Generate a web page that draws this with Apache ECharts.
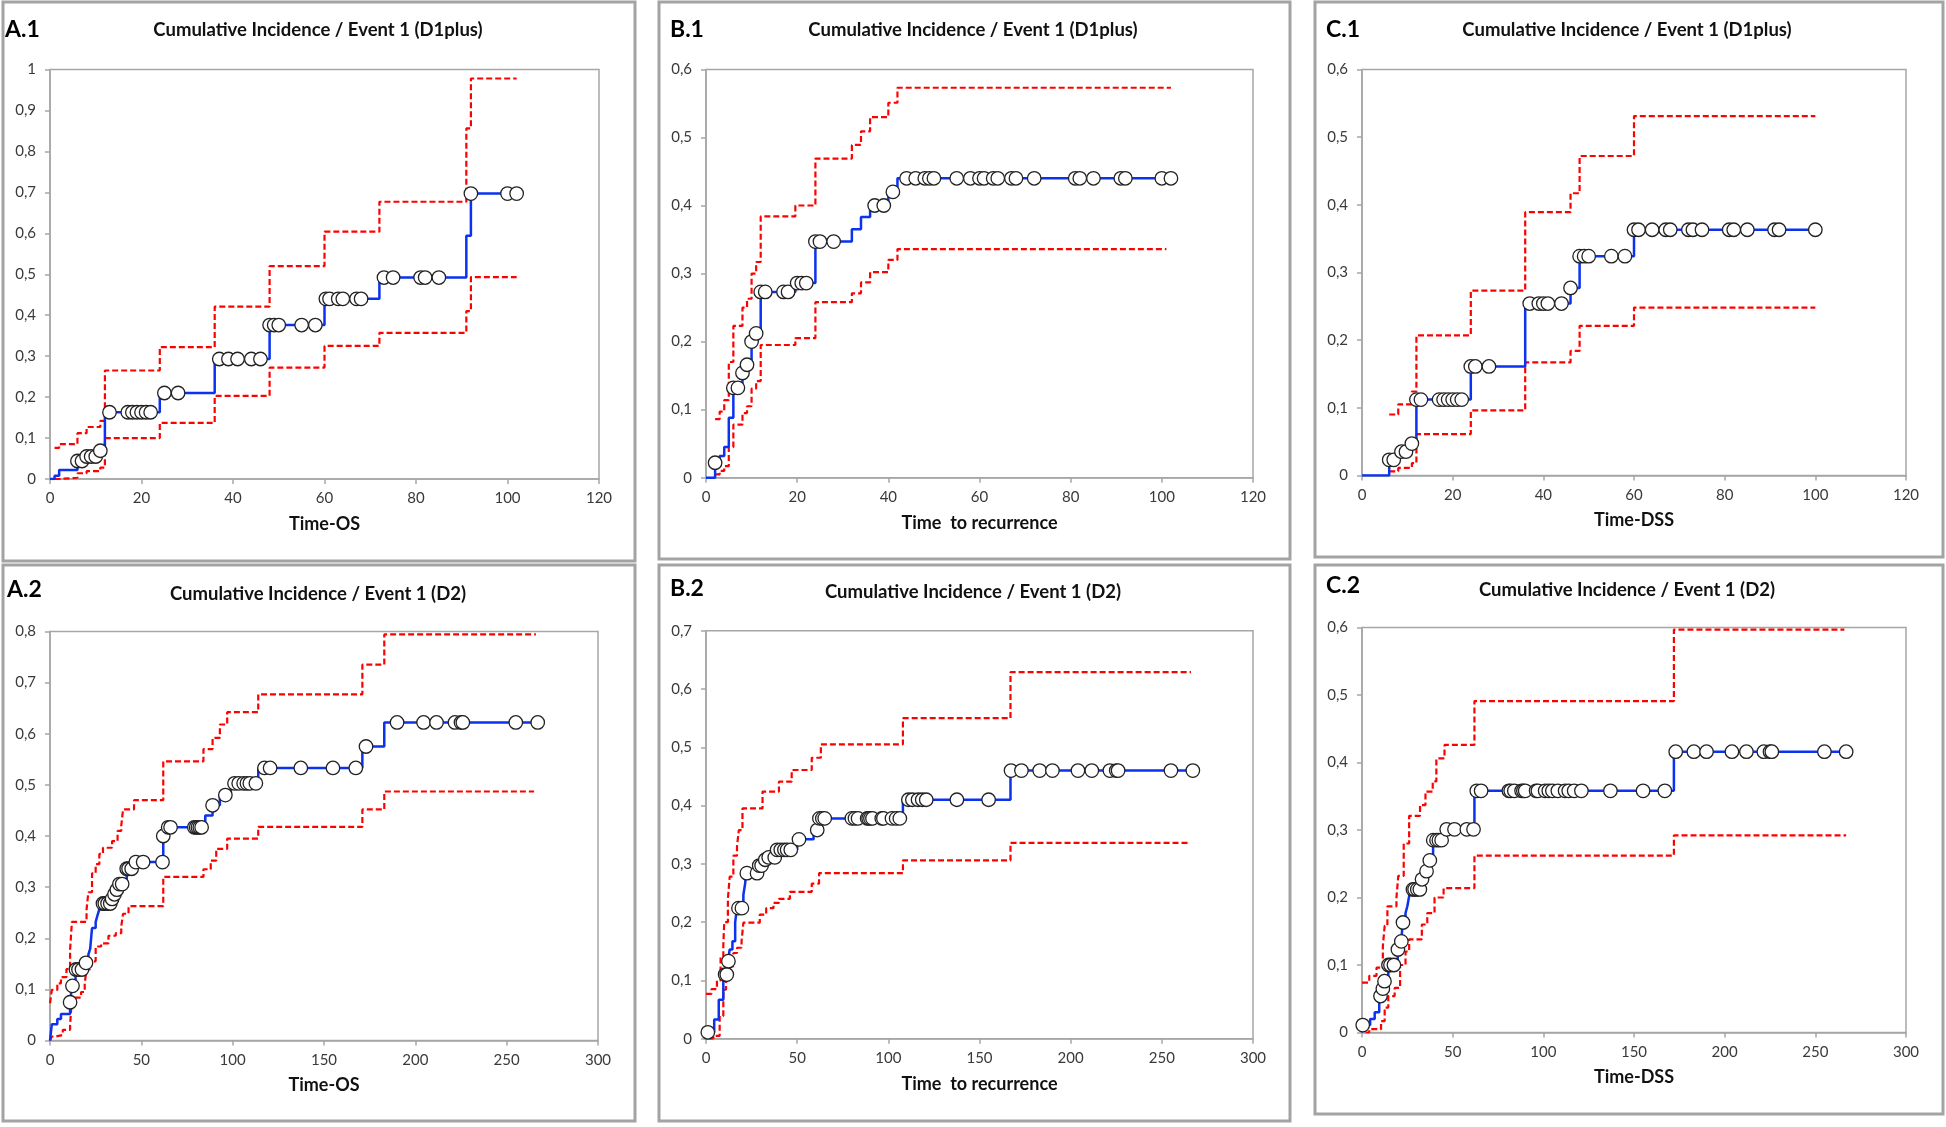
<!DOCTYPE html>
<html><head><meta charset="utf-8">
<script src="https://cdn.jsdelivr.net/npm/echarts@6/dist/echarts.min.js"></script>
<style>html,body{margin:0;padding:0;background:#fff}#c{width:1946px;height:1127px}</style>
</head><body><div id="c"></div>
<script>
// ---------- DATA ----------
// Panel titles / labels
const panelLabels = ['A.1','B.1','C.1','A.2','B.2','C.2'];
const panelTitles = ['Cumulative Incidence / Event 1 (D1plus)','Cumulative Incidence / Event 1 (D1plus)','Cumulative Incidence / Event 1 (D1plus)',
  'Cumulative Incidence / Event 1 (D2)','Cumulative Incidence / Event 1 (D2)','Cumulative Incidence / Event 1 (D2)'];
const xNames = ['Time-OS','Time  to recurrence','Time-DSS','Time-OS','Time  to recurrence','Time-DSS'];
const xMax = [120,120,120,300,300,300];
const xStep = [20,20,20,50,50,50];
const yMax = [1,0.6,0.6,0.8,0.7,0.6];
const yStep = [0.1,0.1,0.1,0.1,0.1,0.1];

// A.1 : D1plus, Time-OS
const A1_est = [[0,0],[1,0.008],[2,0.022],[6,0.044],[8,0.055],[11,0.069],[12,0.163],[24,0.21],[36,0.293],[48,0.376],[60,0.44],[72,0.492],[91,0.594],[92,0.697],[102,0.697]];
const A1_up  = [[1,0.076],[2,0.085],[6,0.112],[8,0.127],[11,0.142],[12,0.265],[24,0.322],[36,0.421],[48,0.52],[60,0.604],[72,0.677],[91,0.856],[92,0.978],[102,0.978]];
const A1_lo  = [[1,0],[2,0.003],[6,0.014],[8,0.019],[11,0.028],[12,0.1],[24,0.137],[36,0.203],[48,0.272],[60,0.325],[72,0.357],[91,0.41],[92,0.493],[102,0.493]];
const A1_cens = [6,7,8,9,10,11,13,17,18,19,20,21,22,25,28,37,39,41,44,46,48,49,50,55,58,60.3,61.1,63,64,67,68,73,75,81,82,85,92,100,102];

// B.1 : D1plus, Time to recurrence
const B1_est = [[0,0],[2,0.022],[3,0.032],[4,0.045],[5,0.088],[6,0.132],[8,0.154],[9,0.166],[10,0.2],[11,0.212],[12,0.273],[19.6,0.286],[24,0.347],[32,0.365],[34,0.383],[36,0.4],[40,0.42],[42,0.44],[102,0.44]];
const B1_up  = [[2,0.086],[3,0.097],[4,0.114],[5,0.17],[6,0.223],[8,0.25],[9,0.263],[10,0.3],[11,0.317],[12,0.384],[19.6,0.4],[24,0.469],[32,0.489],[34,0.509],[36,0.53],[40,0.551],[42,0.573],[102,0.573]];
const B1_lo  = [[2,0.005],[3,0.01],[4,0.017],[5,0.045],[6,0.078],[8,0.095],[9,0.105],[10,0.131],[11,0.142],[12,0.195],[19.6,0.205],[24,0.258],[32,0.271],[34,0.287],[36,0.302],[40,0.32],[42,0.336],[101,0.336]];
const B1_cens = [2,6,7,8,9,10,11,12,13,17,18,20,21,22,24,25,28,37,39,41,44,46,48,49,50,55,58,60,61,63,64,67,68,72,81,82,85,91,92,100,102];

// C.1 : D1plus, Time-DSS
const C1_est = [[0,0],[6,0.023],[8,0.035],[11,0.047],[12,0.112],[24,0.161],[36,0.254],[46,0.277],[48,0.324],[60,0.363],[100,0.363]];
const C1_up  = [[6,0.09],[8,0.105],[11,0.124],[12,0.207],[24,0.273],[36,0.389],[46,0.417],[48,0.472],[60,0.531],[100,0.531]];
const C1_lo  = [[6,0.006],[8,0.011],[11,0.018],[12,0.061],[24,0.096],[36,0.167],[46,0.184],[48,0.221],[60,0.248],[100,0.248]];
const C1_cens = [6,7,8.7,9.7,11,12,13,17,18,19,20,21,22,24,25,28,37,39,40,41,44,46,48,49,50,55,58,60,61,64,67,68,72,73,75,81,82,85,91,92,100];

// A.2 : D2, Time-OS
const A2_est = [[0,0],[1,0.032],[4,0.042],[6,0.052],[11,0.075],[12,0.107],[14,0.139],[19.5,0.152],[21,0.168],[22,0.18],[23,0.22],[25,0.232],[26,0.245],[27,0.257],[29,0.268],[34,0.277],[35,0.286],[36.5,0.295],[38,0.306],[42,0.336],[46.5,0.349],[62,0.4],[64,0.417],[85,0.44],[89,0.46],[93,0.48],[99,0.503],[114,0.533],[171,0.575],[183,0.622],[267,0.622]];
const A2_up  = [[0,0.073],[1,0.099],[4,0.112],[6,0.124],[9,0.14],[11,0.178],[12,0.232],[20,0.256],[21,0.29],[23,0.327],[25,0.345],[27,0.365],[29,0.377],[34,0.39],[37,0.41],[39,0.42],[40,0.452],[46,0.47],[62,0.546],[84,0.57],[89,0.592],[93,0.618],[97,0.642],[114,0.677],[171,0.735],[183,0.794],[266,0.794]];
const A2_lo  = [[0,0],[1,0.008],[3,0.011],[7,0.021],[11,0.03],[12,0.084],[17,0.095],[19,0.112],[20,0.139],[22,0.155],[25,0.184],[28,0.19],[32,0.205],[36,0.21],[39,0.223],[40,0.248],[43,0.263],[62,0.32],[84,0.335],[88,0.352],[91,0.375],[97,0.395],[114,0.418],[171,0.452],[183,0.487],[265,0.487]];
const A2_cens = [11,12.3,14.2,15.6,17.5,19.7,29,30,31.5,33,34,35.3,36.6,38,39.5,42,43,44.7,47,51,61.6,62,64.7,66,79,80,81,82,83,89,96,101,103.3,106,107.8,109.4,112.7,117.4,120.5,137.3,154.9,167.4,173,190,204.5,211.6,221.7,225,226,255,267];

// B.2 : D2, Time to recurrence
const B2_est = [[0,0],[1,0.011],[4.5,0.033],[7,0.067],[9.5,0.1],[10.5,0.11],[12,0.133],[13,0.153],[14.5,0.167],[16,0.2],[17,0.224],[20.5,0.247],[21.5,0.267],[22,0.284],[29,0.297],[32,0.307],[34,0.311],[39,0.324],[50,0.342],[59,0.358],[62,0.378],[108,0.41],[167,0.46],[267,0.46]];
const B2_up  = [[0,0.077],[3,0.085],[6,0.1],[8,0.14],[9.5,0.16],[10,0.2],[12,0.24],[13,0.278],[15,0.314],[17,0.33],[18,0.358],[20,0.395],[31,0.424],[40,0.441],[47,0.461],[58,0.482],[63,0.505],[108,0.55],[167,0.629],[266,0.629]];
const B2_lo  = [[2,0],[4,0.005],[7.5,0.039],[9.5,0.084],[11,0.104],[13,0.124],[15,0.147],[17,0.156],[19.5,0.167],[20.5,0.199],[29.5,0.213],[33,0.224],[37,0.233],[40,0.24],[46,0.252],[58,0.266],[62,0.284],[108,0.306],[167,0.336],[265,0.336]];
const B2_cens = [1,10.5,11.4,12.3,17.8,19.7,22.4,28,29.2,30.5,32.5,34.4,37.7,39,41,43,44.5,46.5,51,61,62.2,63.8,65.1,80,81.7,83.4,88.4,89.2,90.2,91.3,96.4,97.3,102,104.3,106.3,111,113.2,116.3,118.6,120.8,137.6,155,167.3,173,183,190,204,211.6,221.5,225,226,255,267];

// C.2 : D2, Time-DSS
const C2_est = [[0,0],[0.4,0.011],[4.5,0.02],[7,0.03],[9.5,0.042],[10,0.054],[11.4,0.065],[12.3,0.076],[14.5,0.1],[19.7,0.123],[21.6,0.135],[22.5,0.163],[24,0.177],[25,0.187],[26,0.202],[27,0.212],[33,0.227],[35.5,0.239],[37.3,0.255],[39.2,0.285],[46.5,0.301],[62,0.358],[172,0.416],[267,0.416]];
const C2_up  = [[0,0.074],[4,0.084],[8,0.096],[11.5,0.128],[12.5,0.158],[14,0.187],[19,0.2],[20,0.232],[23,0.28],[26,0.321],[32,0.337],[35,0.357],[39,0.372],[41,0.406],[45.5,0.426],[62,0.491],[172,0.597],[266,0.597]];
const C2_lo  = [[2,0],[4,0.005],[10.5,0.017],[12.5,0.037],[14.5,0.054],[18,0.066],[21,0.1],[24,0.12],[26,0.138],[33,0.16],[36,0.177],[40,0.2],[45,0.214],[62,0.262],[172,0.292],[267,0.292]];
const C2_cens = [0.4,10.2,11.5,12.4,14.6,15.7,17.6,19.8,21.7,22.6,28.1,29,30.5,31.9,33.1,35.6,37.4,39.3,41.1,42.4,43.9,46.7,51,57.8,61.5,63.3,65.7,81,82,84,88,89,90,96,97,101,103,105,108,112,114,117,121,137,155,167,173,183,190,204,212,221.6,225,226,255,267];

const EST = [A1_est,B1_est,C1_est,A2_est,B2_est,C2_est];
const UP  = [A1_up,B1_up,C1_up,A2_up,B2_up,C2_up];
const LO  = [A1_lo,B1_lo,C1_lo,A2_lo,B2_lo,C2_lo];
const CENS= [A1_cens,B1_cens,C1_cens,A2_cens,B2_cens,C2_cens];

// ---------- LAYOUT ----------
const frames = [[3,2,632,559],[659,2,631,557],[1315,2,628,555],[3,565,632,556],[659,565,631,556],[1315,565,628,549]];
const grids = [
  {left:50, top:69.5, width:549, height:409.5},
  {left:706, top:69.4, width:547, height:408.3},
  {left:1362, top:69.4, width:544, height:406},
  {left:50, top:631.4, width:548, height:409.2},
  {left:706, top:630.7, width:547, height:408},
  {left:1362, top:627.5, width:544, height:405}
];
const labelPos = [[5,30],[670,30],[1326,30],[7,590],[670,589],[1326,586]];
const titlePos = [[318,30],[973,30],[1627,30],[318,594],[973,592],[1627,590]];

function levelAt(est, t){
  let v = est[0][1];
  for (const p of est){ if (p[0] <= t + 1e-9) v = p[1]; else break; }
  return v;
}

const AX = '#a6a6a6';
const FONT = 'Lato, "Open Sans", sans-serif';
const fmt = v => (Math.round(v*10)/10).toString().replace('.', ',');

const option = {
  animation:false,
  backgroundColor:'#fff',
  grid: grids.map(g => Object.assign({show:true, borderColor:AX, borderWidth:1.5, containLabel:false}, g)),
  xAxis: grids.map((g,i) => ({
    type:'value', gridIndex:i, min:0, max:xMax[i], interval:xStep[i],
    name:xNames[i], nameLocation:'middle', nameGap:36,
    nameTextStyle:{fontFamily:FONT, fontWeight:'bold', fontSize:18, color:'#111'},
    axisLine:{show:true, lineStyle:{color:AX, width:1.5}},
    axisTick:{show:true, inside:false, length:5, lineStyle:{color:AX, width:1.5}},
    axisLabel:{fontFamily:FONT, fontSize:15, color:'#3a3a3a', margin:12},
    splitLine:{show:false}
  })),
  yAxis: grids.map((g,i) => ({
    type:'value', gridIndex:i, min:0, max:yMax[i], interval:yStep[i],
    axisLine:{show:true, lineStyle:{color:AX, width:1.5}},
    axisTick:{show:true, inside:false, length:5, lineStyle:{color:AX, width:1.5}},
    axisLabel:{fontFamily:FONT, fontSize:15, color:'#3a3a3a', margin:14, formatter:fmt},
    splitLine:{show:false}
  })),
  graphic: [],
  series: []
};

for (let i=0;i<6;i++){
  const f = frames[i];
  option.graphic.push({type:'rect', shape:{x:f[0], y:f[1], width:f[2], height:f[3]}, style:{fill:'none', stroke:'#a3a3a3', lineWidth:3}, silent:true});
  option.graphic.push({type:'text', x:labelPos[i][0], y:labelPos[i][1], style:{text:panelLabels[i], font:'bold 23px '+FONT, fill:'#000', align:'left', verticalAlign:'middle'}});
  option.graphic.push({type:'text', x:titlePos[i][0], y:titlePos[i][1], style:{text:panelTitles[i], font:'bold 18.5px '+FONT, fill:'#111', align:'center', verticalAlign:'middle'}});
  const red = {color:'#ff0000', width:2.2, type:[6,3]};
  option.series.push({type:'line', xAxisIndex:i, yAxisIndex:i, step:'end', symbol:'none', data:UP[i], lineStyle:red, z:2});
  option.series.push({type:'line', xAxisIndex:i, yAxisIndex:i, step:'end', symbol:'none', data:LO[i], lineStyle:red, z:2});
  option.series.push({type:'line', xAxisIndex:i, yAxisIndex:i, step:'end', symbol:'none', data:EST[i], lineStyle:{color:'#0a32f0', width:2.5}, z:3});
  option.series.push({type:'scatter', xAxisIndex:i, yAxisIndex:i, symbol:'circle', symbolSize:13.5,
    data:CENS[i].map(t => [t, levelAt(EST[i], t)]),
    itemStyle:{color:'#ffffff', borderColor:'#222222', borderWidth:1.3, opacity:1}, z:4});
}

const chart = echarts.init(document.getElementById('c'), null, {renderer:'canvas'});
chart.setOption(option);
</script>
</body></html>
